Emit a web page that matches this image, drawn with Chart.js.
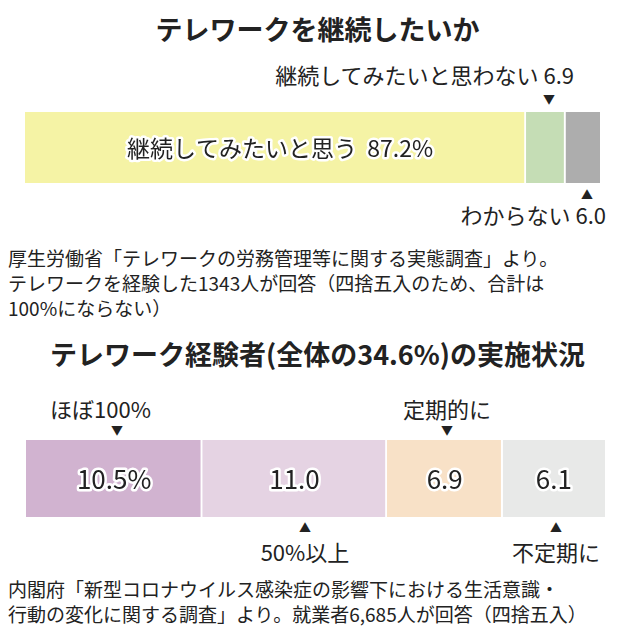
<!DOCTYPE html>
<html><head><meta charset="utf-8">
<script src="https://cdn.jsdelivr.net/npm/chart.js@4"></script>
<style>
body{margin:0;width:635px;height:640px;background:#fff;position:relative;font-family:"Noto Sans CJK JP","Noto Sans",sans-serif;color:#222;overflow:hidden}
.t{position:absolute;white-space:nowrap;line-height:1}
.h{font-weight:bold;font-size:27px;width:635px;text-align:center}
.n{font-size:19px;left:8px;line-height:25px}
.c{transform:translateX(-50%)}
.r{transform:translateX(-100%)}
.a{font-size:12px}
.box{position:absolute}
</style></head><body>
<div class="t h" style="top:15px">テレワークを継続したいか</div>
<div class="t r" style="left:574px;top:63px;font-size:22px">継続してみたいと思わない&nbsp;6.9</div>
<div class="t a c" style="left:549px;top:93px">▼</div>
<div class="t a c" style="left:587px;top:189px">▲</div>
<div class="t r" style="left:606px;top:203px;font-size:22px">わからない&nbsp;6.0</div>
<div class="box" style="left:25px;top:112px;width:575px;height:71px"><canvas id="c1"></canvas></div>
<div class="t n" style="top:245px">厚生労働省「テレワークの労務管理等に関する実態調査」より。<br>テレワークを経験した1343人が回答（四捨五入のため、合計は<br>100%にならない）</div>

<div class="t h" style="top:340px">テレワーク経験者(全体の34.6%)の実施状況</div>
<div class="t" style="left:50px;top:397px;font-size:22px">ほぼ100%</div>
<div class="t a c" style="left:117px;top:424px">▼</div>
<div class="t c" style="left:447px;top:397px;font-size:22px">定期的に</div>
<div class="t a c" style="left:447px;top:424px">▼</div>
<div class="box" style="left:26px;top:440px;width:579px;height:77px"><canvas id="c2"></canvas></div>
<div class="t a c" style="left:305px;top:522px">▲</div>
<div class="t c" style="left:305px;top:540px;font-size:22px">50%以上</div>
<div class="t a c" style="left:556px;top:522px">▲</div>
<div class="t c" style="left:556px;top:540px;font-size:22px">不定期に</div>
<div class="t n" style="top:576px">内閣府「新型コロナウイルス感染症の影響下における生活意識・<br>行動の変化に関する調査」より。就業者6,685人が回答（四捨五入）</div>
<script>
// 継続したいか
const wishLabels = ['継続してみたいと思う', '継続してみたいと思わない', 'わからない'];
const wishValues = [87.2, 6.9, 6.0];
const wishInner = ['継続してみたいと思う  87.2%', '', ''];
const wishColors = ['#f5f3a5', '#c5ddb5', '#adadad'];

// 実施状況
const doLabels = ['ほぼ100%', '50%以上', '定期的に', '不定期に'];
const doValues = [10.5, 11.0, 6.9, 6.1];
const doInner = ['10.5%', '11.0', '6.9', '6.1'];
const doColors = ['#d1b3d0', '#e5d3e3', '#f8e1c7', '#e8e9e8'];

const innerText = {
    id: 'innerText',
    afterDatasetsDraw(chart, args, opts) {
        const ctx = chart.ctx;
        chart.data.datasets.forEach(function (ds, i) {
            const txt = opts.texts[i];
            if (!txt) return;
            const el = chart.getDatasetMeta(i).data[0];
            const x = opts.x !== undefined ? opts.x : (el.base + el.x) / 2;
            ctx.save();
            ctx.font = opts.font;
            ctx.textAlign = 'center';
            ctx.textBaseline = 'middle';
            ctx.lineJoin = 'round';
            ctx.lineWidth = 5;
            ctx.strokeStyle = '#fff';
            ctx.strokeText(txt, x, el.y + 1);
            ctx.fillStyle = '#222';
            ctx.fillText(txt, x, el.y + 1);
            ctx.restore();
        });
    }
};

function makeBar(id, labels, values, colors, texts, font, fixedX) {
    const total = values.reduce((a, b) => a + b, 0);
    new Chart(document.getElementById(id), {
        type: 'bar',
        data: {
            labels: [''],
            datasets: labels.map((l, i) => ({
                label: l,
                data: [values[i]],
                backgroundColor: colors[i],
                borderColor: '#fff',
                borderWidth: { left: 0, right: i < labels.length - 1 ? 2 : 0, top: 0, bottom: 0 },
                borderSkipped: false,
                barPercentage: 1,
                categoryPercentage: 1
            }))
        },
        options: {
            indexAxis: 'y',
            responsive: true,
            maintainAspectRatio: false,
            animation: false,
            layout: { padding: 0 },
            scales: {
                x: { stacked: true, display: false, min: 0, max: total },
                y: { stacked: true, display: false }
            },
            plugins: {
                legend: { display: false },
                tooltip: { enabled: false },
                innerText: { texts: texts, font: font, x: fixedX }
            }
        },
        plugins: [innerText]
    });
}

makeBar('c1', wishLabels, wishValues, wishColors, wishInner, '23px "Noto Sans CJK JP", sans-serif', 255);
makeBar('c2', doLabels, doValues, doColors, doInner, '26px "Noto Sans CJK JP", sans-serif');
</script>
</body></html>
